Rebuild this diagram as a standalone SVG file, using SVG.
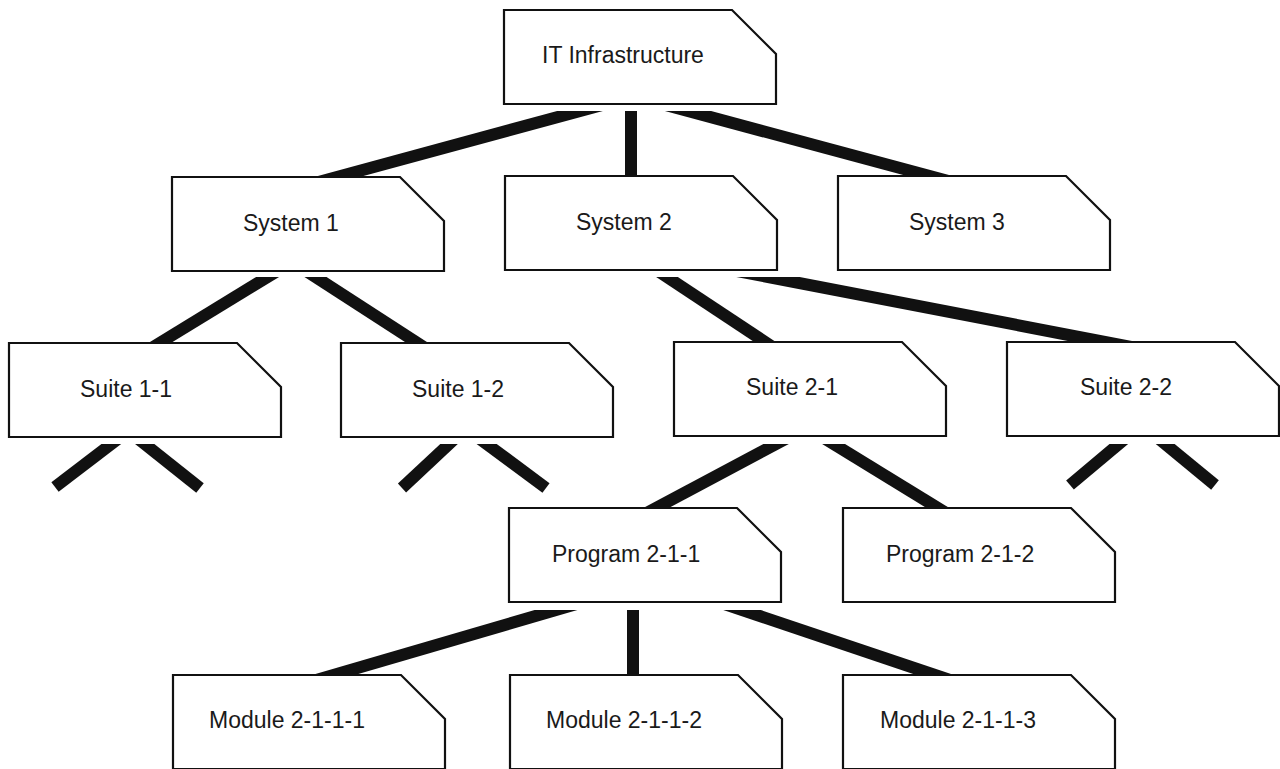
<svg xmlns="http://www.w3.org/2000/svg" xmlns:xlink="http://www.w3.org/1999/xlink" width="1280" height="769" viewBox="0 0 1280 769">
  <style>
    .card { fill: #ffffff; stroke: #111111; stroke-width: 2.2; stroke-linejoin: miter; }
    .label { font-family: "Liberation Sans", Arial, sans-serif; font-size: 23px; fill: #1a1a1a; }
    .bar { stroke: #111111; stroke-width: 12; stroke-linecap: butt; fill: none; }
  </style>
  <defs>
    <!-- card outline with the clipped top-right corner -->
    <path id="card" d="M0,0 H228 L272,44 V94 H0 Z"/>
    <!-- each band starts just below the parent row, giving the bars a flat top -->
    <clipPath id="bandA"><rect x="0" y="111" width="1280" height="120"/></clipPath>
    <clipPath id="bandB"><rect x="0" y="277" width="1280" height="120"/></clipPath>
    <clipPath id="bandC"><rect x="0" y="444" width="1280" height="120"/></clipPath>
    <clipPath id="bandD"><rect x="0" y="610" width="1280" height="120"/></clipPath>
  </defs>

  <rect x="0" y="0" width="1280" height="769" fill="#ffffff"/>

  <g id="connectors">
    <g clip-path="url(#bandA)">
      <line class="bar" x1="624.2" y1="99" x2="307.5" y2="185"/>
      <line class="bar" x1="631" y1="99" x2="631" y2="185"/>
      <line class="bar" x1="643.4" y1="99" x2="955.8" y2="183"/>
    </g>
    <g clip-path="url(#bandB)">
      <line class="bar" x1="285.6" y1="266" x2="144.9" y2="352"/>
      <line class="bar" x1="298.5" y1="266" x2="431.4" y2="352"/>
      <line class="bar" x1="648.9" y1="265" x2="777.1" y2="350"/>
      <line class="bar" x1="705.8" y1="265" x2="1146.5" y2="350"/>
    </g>
    <g clip-path="url(#bandC)">
      <line class="bar" x1="800.5" y1="431" x2="641" y2="516"/>
      <line class="bar" x1="812.4" y1="431" x2="951" y2="516"/>
      <!-- open branches below the other suites -->
      <line class="bar" x1="125.7" y1="433" x2="55" y2="487"/>
      <line class="bar" x1="130.9" y1="433" x2="200" y2="488"/>
      <line class="bar" x1="460.8" y1="433" x2="402" y2="488"/>
      <line class="bar" x1="471.8" y1="433" x2="546" y2="488"/>
      <line class="bar" x1="1134.3" y1="431" x2="1070" y2="485"/>
      <line class="bar" x1="1149.4" y1="431" x2="1215" y2="485"/>
    </g>
    <g clip-path="url(#bandD)">
      <line class="bar" x1="597.1" y1="598" x2="302.6" y2="684"/>
      <line class="bar" x1="633" y1="598" x2="633" y2="684"/>
      <line class="bar" x1="706.4" y1="598" x2="958.8" y2="683"/>
    </g>
  </g>

  <g id="it-infrastructure">
    <use xlink:href="#card" class="card" x="504" y="10"/>
    <text class="label" x="542" y="63">IT Infrastructure</text>
  </g>
  <g id="system-1">
    <use xlink:href="#card" class="card" x="172" y="177"/>
    <text class="label" x="243" y="231">System 1</text>
  </g>
  <g id="system-2">
    <use xlink:href="#card" class="card" x="505" y="176"/>
    <text class="label" x="576" y="230">System 2</text>
  </g>
  <g id="system-3">
    <use xlink:href="#card" class="card" x="838" y="176"/>
    <text class="label" x="909" y="230">System 3</text>
  </g>
  <g id="suite-1-1">
    <use xlink:href="#card" class="card" x="9" y="343"/>
    <text class="label" x="80" y="397">Suite 1-1</text>
  </g>
  <g id="suite-1-2">
    <use xlink:href="#card" class="card" x="341" y="343"/>
    <text class="label" x="412" y="397">Suite 1-2</text>
  </g>
  <g id="suite-2-1">
    <use xlink:href="#card" class="card" x="674" y="342"/>
    <text class="label" x="746" y="395">Suite 2-1</text>
  </g>
  <g id="suite-2-2">
    <use xlink:href="#card" class="card" x="1007" y="342"/>
    <text class="label" x="1080" y="395">Suite 2-2</text>
  </g>
  <g id="program-2-1-1">
    <use xlink:href="#card" class="card" x="509" y="508"/>
    <text class="label" x="552" y="562">Program 2-1-1</text>
  </g>
  <g id="program-2-1-2">
    <use xlink:href="#card" class="card" x="843" y="508"/>
    <text class="label" x="886" y="562">Program 2-1-2</text>
  </g>
  <g id="module-2-1-1-1">
    <use xlink:href="#card" class="card" x="173" y="675"/>
    <text class="label" x="209" y="728">Module 2-1-1-1</text>
  </g>
  <g id="module-2-1-1-2">
    <use xlink:href="#card" class="card" x="510" y="675"/>
    <text class="label" x="546" y="728">Module 2-1-1-2</text>
  </g>
  <g id="module-2-1-1-3">
    <use xlink:href="#card" class="card" x="843" y="675"/>
    <text class="label" x="880" y="728">Module 2-1-1-3</text>
  </g>
</svg>
